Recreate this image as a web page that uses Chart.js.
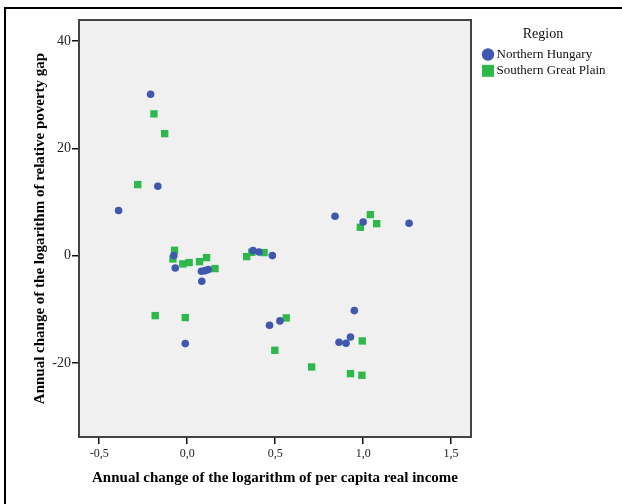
<!DOCTYPE html>
<html>
<head>
<meta charset="utf-8">
<script src="https://cdn.jsdelivr.net/npm/chart.js@4.4.1/dist/chart.umd.min.js"></script>
<style>
  html, body { margin: 0; padding: 0; background: #ffffff; }
  #wrap { position: relative; width: 622px; height: 504px; }
</style>
</head>
<body>
<div id="wrap"><canvas id="c" width="622" height="504"></canvas></div>
<script>
// ---- Data ----
const regionNames = ['Northern Hungary', 'Southern Great Plain'];
const legendTitle = 'Region';
const xTitle = 'Annual change of the logarithm of per capita real income';
const yTitle = 'Annual change of the logarithm of relative poverty gap';

const northX = [-0.208, -0.167, -0.390, -0.076, -0.068, 0.081, 0.101, 0.120, 0.083, -0.011,
                 0.374, 0.408, 0.484, 0.468, 0.527, 0.840, 1.000, 1.261, 0.950, 0.863, 0.903, 0.928];
const northY = [30.06, 12.92, 8.39, 0.0, -2.30, -2.92, -2.80, -2.61, -4.78, -16.40,
                 0.93, 0.68, 0.0, -12.98, -12.17, 7.33, 6.27, 6.02, -10.25, -16.15, -16.34, -15.16];

const southX = [-0.189, -0.128, -0.281, -0.072, -0.081, -0.025, 0.011, 0.070, 0.110, 0.158,
                -0.182, -0.011, 0.338, 0.367, 0.437, 0.563, 0.498, 0.707, 0.928, 0.993,
                 0.995, 0.984, 1.041, 1.077];
const southY = [26.40, 22.73, 13.23, 0.99, -0.62, -1.55, -1.30, -1.12, -0.37, -2.42,
                -11.18, -11.55, -0.19, 0.62, 0.56, -11.61, -17.64, -20.75, -21.99, -22.30,
                -15.90, 5.28, 7.64, 5.96];

const xTicks = [-0.5, 0.0, 0.5, 1.0, 1.5];
const yTicks = [-20, 0, 20, 40];
const xRange = [-0.615, 1.613];
const yRange = [-33.8, 43.9];

const blue = '#3F58AE';
const green = '#2DB84B';
const serif = '"Liberation Serif", "Times New Roman", serif';

const toPts = (xs, ys) => xs.map((x, i) => ({ x: x, y: ys[i] }));

const decorPlugin = {
  id: 'decor',
  beforeDraw(chart) {
    const { ctx, chartArea: a } = chart;
    ctx.save();
    ctx.fillStyle = '#F0F0F0';
    ctx.fillRect(a.left, a.top, a.right - a.left, a.bottom - a.top);
    ctx.restore();
  },
  afterDraw(chart) {
    const { ctx, chartArea: a } = chart;
    ctx.save();
    // plot frame
    ctx.strokeStyle = '#444444';
    ctx.lineWidth = 2;
    ctx.strokeRect(a.left, a.top, a.right - a.left, a.bottom - a.top);
    // outer frame (top and left edges)
    ctx.fillStyle = '#000000';
    ctx.fillRect(4, 7, 618, 2);
    ctx.fillRect(4, 7, 2, 497);
    // legend
    ctx.fillStyle = '#111111';
    ctx.textBaseline = 'middle';
    ctx.textAlign = 'center';
    ctx.font = '14px ' + serif;
    ctx.fillText(legendTitle, 543, 34);
    ctx.textAlign = 'left';
    ctx.font = '13px ' + serif;
    ctx.beginPath();
    ctx.fillStyle = blue;
    ctx.arc(488, 54.5, 6.2, 0, Math.PI * 2);
    ctx.fill();
    ctx.fillStyle = green;
    ctx.fillRect(482, 64.8, 12, 12);
    ctx.fillStyle = '#111111';
    ctx.fillText(regionNames[0], 496.5, 55);
    ctx.fillText(regionNames[1], 496.5, 71);
    ctx.restore();
  }
};

new Chart(document.getElementById('c'), {
  type: 'scatter',
  data: {
    datasets: [
      { label: regionNames[0], data: toPts(northX, northY), pointStyle: 'circle',
        pointRadius: 3.8, pointHoverRadius: 3.8, backgroundColor: blue, borderColor: blue, borderWidth: 0 },
      { label: regionNames[1], data: toPts(southX, southY), pointStyle: 'rect',
        pointRadius: 5.2, pointHoverRadius: 5.2, backgroundColor: green, borderColor: green, borderWidth: 0 }
    ]
  },
  options: {
    responsive: false,
    animation: false,
    events: [],
    layout: { padding: { left: 0, top: 20, right: 151, bottom: 0 } },
    plugins: { legend: { display: false }, tooltip: { enabled: false } },
    scales: {
      x: {
        type: 'linear', min: xRange[0], max: xRange[1],
        afterBuildTicks: s => { s.ticks = xTicks.map(v => ({ value: v })); },
        afterFit: s => { s.height = 67; },
        grid: { display: true, drawOnChartArea: false, drawTicks: true, tickLength: 7, color: '#111', lineWidth: 1.5 },
        border: { display: false },
        ticks: { padding: 3, color: '#222', font: { family: serif, size: 12 },
                 callback: v => v.toFixed(1).replace('.', ','), maxRotation: 0, autoSkip: false },
        title: { display: true, text: xTitle, color: '#000', font: { family: serif, size: 15, weight: 'bold' },
                 padding: { top: 0, bottom: 17 } }
      },
      y: {
        type: 'linear', min: yRange[0], max: yRange[1],
        afterBuildTicks: s => { s.ticks = yTicks.map(v => ({ value: v })); },
        afterFit: s => { s.width = 79; },
        grid: { display: true, drawOnChartArea: false, drawTicks: true, tickLength: 7, color: '#111', lineWidth: 1.5 },
        border: { display: false },
        ticks: { padding: 1, color: '#222', font: { family: serif, size: 14 },
                 callback: v => String(v), autoSkip: false },
        title: { display: true, text: yTitle, color: '#000', font: { family: serif, size: 15, weight: 'bold' },
                 padding: { top: 31, bottom: 0 } }
      }
    }
  },
  plugins: [decorPlugin]
});
</script>
</body>
</html>
